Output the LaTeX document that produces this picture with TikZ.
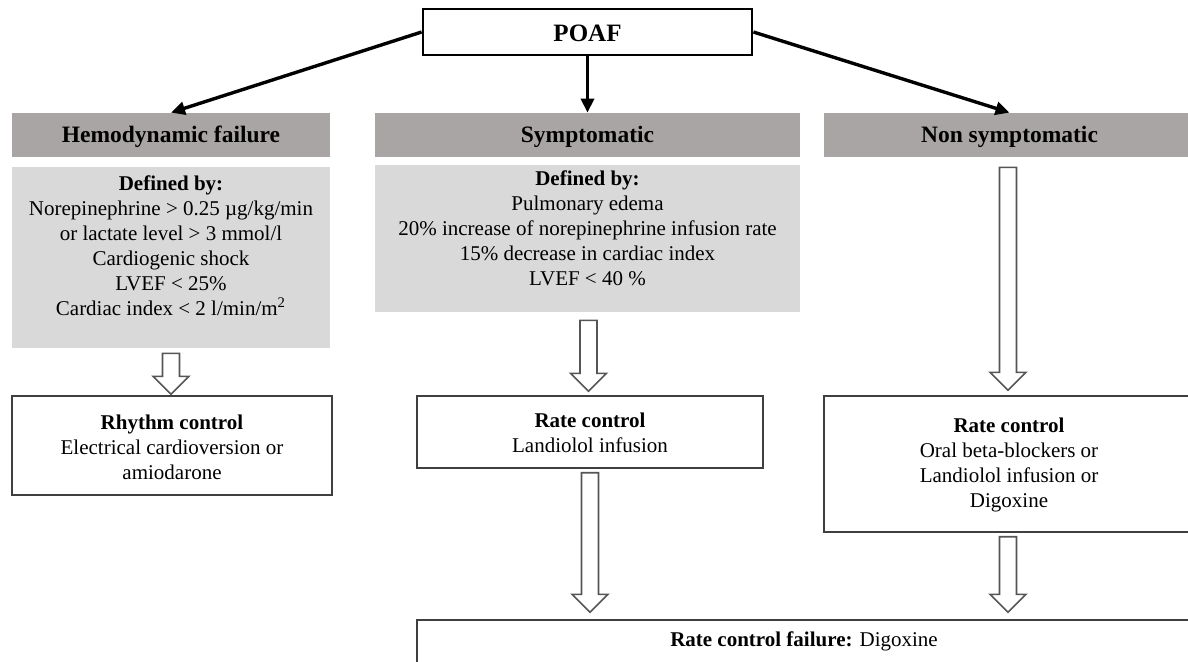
\documentclass[tikz,border=0pt]{standalone}
\usepackage{fontspec}
\setmainfont{Liberation Serif}
\usetikzlibrary{calc,fit,arrows.meta}
\definecolor{hdrgray}{HTML}{A9A5A4}
\definecolor{defgray}{HTML}{D9D9D9}
\definecolor{boxline}{HTML}{3F3F3F}
\definecolor{arrline}{HTML}{555555}
\tikzset{
 hdr/.style={fill=hdrgray, draw=none, inner sep=0pt},
 hdrtext/.style={inner sep=0pt, font=\fontsize{11.75}{14}\selectfont\bfseries},
 defbox/.style={fill=defgray, draw=none, inner sep=0pt},
 wbox/.style={draw=boxline, line width=0.7pt, fill=white, inner sep=0pt},
 bodytext/.style={inner sep=0pt, align=center, font=\fontsize{10.5}{12.5}\selectfont},
 conn/.style={line width=1.7pt, -{Triangle[length=7pt,width=6.5pt]}},
 blk/.style={draw=arrline, line width=0.8pt, fill=white, line join=miter},
}
\newcommand\blkarrow[2]{%
  \draw[blk] let \p1=#1, \p2=#2 in
    (\x1-4.25pt,\y1) -- (\x1+4.25pt,\y1) -- (\x1+4.25pt,\y2+9pt) -- (\x1+9pt,\y2+9pt)
    -- (\x1,\y2) -- (\x1-9pt,\y2+9pt) -- (\x1-4.25pt,\y2+9pt) -- cycle;}
\begin{document}
\begin{tikzpicture}[x=0.5pt,y=-0.5pt]
\useasboundingbox (0,0) rectangle (1188,661);
% top
\node[draw=black, line width=1.4pt, inner sep=0pt, fit={(423,9) (752,55)}] (poaf) {};
\node[inner sep=0pt, font=\fontsize{12.5}{15}\selectfont\bfseries] (poaft) at ($(poaf.center)+(0,1)$) {POAF};
% headers
\node[hdr, fit={(12,113) (330,157)}] (hh) {};
\node[hdrtext] (hht) at ($(hh.center)+(0,2)$) {Hemodynamic failure};
\node[hdr, fit={(375,113) (800,157)}] (hs) {};
\node[hdrtext] (hst) at ($(hs.center)+(0,2)$) {Symptomatic};
\node[hdr, fit={(824,113) (1195,157)}] (hn) {};
\node[hdrtext] (hnt) at ($(hn.center)+(0,2)$) {Non symptomatic};
% definition boxes
\node[defbox, fit={(12,167) (330,348)}] (hd) {};
\node[bodytext] (hdt) at (171,246) {\textbf{Defined by:}\\Norepinephrine > 0.25 µg/kg/min\\or lactate level > 3 mmol/l\\Cardiogenic shock\\LVEF < 25\%\\Cardiac index < 2 l/min/m\textsuperscript{2}};
\node[defbox, fit={(375,165) (800,312)}] (sd) {};
\node[bodytext] (sdt) at (587.5,228) {\textbf{Defined by:}\\Pulmonary edema\\20\% increase of norepinephrine infusion rate\\15\% decrease in cardiac index\\LVEF < 40 \%};
% treatment boxes
\node[wbox, fit={(12,396) (332,495)}] (rh) {};
\node[bodytext] (rht) at (172,447) {\textbf{Rhythm control}\\Electrical cardioversion or\\amiodarone};
\node[wbox, fit={(417,396) (763,468)}] (mr) {};
\node[bodytext] (mrt) at (590,433) {\textbf{Rate control}\\Landiolol infusion};
\node[wbox, fit={(824,396) (1195,532)}] (nr) {};
\node[bodytext] (nrt) at (1009,465) {\textbf{Rate control}\\Oral beta-blockers or\\Landiolol infusion or\\Digoxine};
\node[wbox, fit={(417,620) (1195,700)}] (fl) {};
\node[bodytext] (flt) at (804,641) {\textbf{Rate control failure:} Digoxine};
% connectors
\draw[conn] (poaf.west) -- (hh.north);
\draw[conn] (poaf.south) -- (hs.north);
\draw[conn] (poaf.east) -- (hn.north);
% block arrows
\blkarrow{($(hd.south)+(0,5)$)}{($(rh.north)+(0,-1)$)}
\blkarrow{($(sd.south)+(1,8)$)}{($(mr.north)+(0,-4)$)}
\blkarrow{($(mr.south)+(0,4)$)}{($(fl.north)+(0,-7)$)}
\blkarrow{($(hn.south)+(-1.5,10)$)}{($(nr.north)+(0,-5)$)}
\blkarrow{($(nr.south)+(-1.5,4)$)}{($(fl.north)+(0,-7)$)}
\end{tikzpicture}
\end{document}
